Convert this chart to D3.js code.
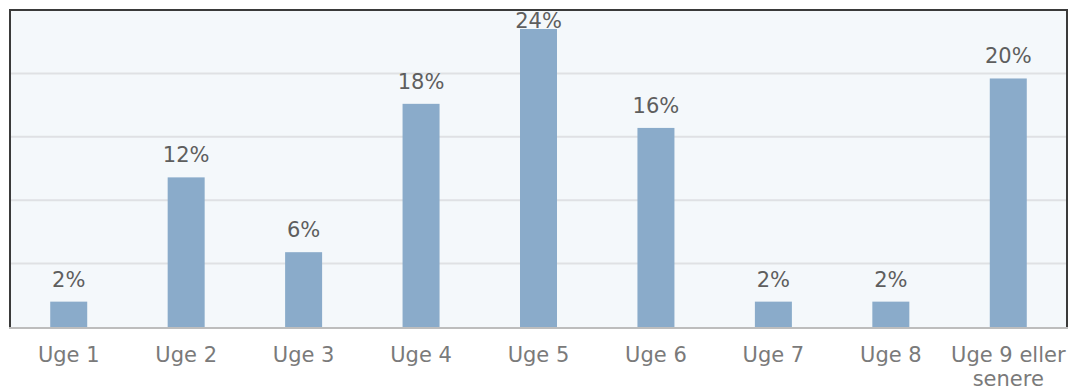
<!DOCTYPE html>
<html>
<head>
<meta charset="utf-8">
<script src="https://cdn.jsdelivr.net/npm/d3@7"></script>
<style>
  html, body { margin: 0; padding: 0; background: #ffffff; }
  svg { display: block; font-family: "DejaVu Sans", Verdana, sans-serif; }
</style>
</head>
<body>
<svg id="chart" width="1069" height="390"></svg>
<script>
// Share of respondents per week (percent)
const categories = ["Uge 1", "Uge 2", "Uge 3", "Uge 4", "Uge 5", "Uge 6", "Uge 7", "Uge 8", "Uge 9 eller senere"];
const shares = [2.0, 11.8, 5.9, 17.6, 23.5, 15.7, 2.0, 2.0, 19.6];
const yTicks = [0, 5, 10, 15, 20, 25];

const svg = d3.select("#chart");
const plot = { left: 10, right: 1067, top: 10, bottom: 327 };

const x = d3.scaleBand()
  .domain(categories)
  .range([plot.left, plot.right])
  .paddingInner(0.685)
  .paddingOuter(0.3425);

const y = d3.scaleLinear()
  .domain([0, 25])
  .range([plot.bottom, plot.top]);

// Plot background
svg.append("rect")
  .attr("x", plot.left).attr("y", plot.top)
  .attr("width", plot.right - plot.left)
  .attr("height", plot.bottom - plot.top)
  .attr("fill", "#f4f8fb");

// Horizontal gridlines
svg.append("g")
  .selectAll("line")
  .data(yTicks.filter(t => t > 0 && t < 25))
  .join("line")
  .attr("x1", plot.left).attr("x2", plot.right)
  .attr("y1", d => y(d)).attr("y2", d => y(d))
  .attr("stroke", "#dfe1e4")
  .attr("stroke-width", 2);

// Bars
svg.append("g")
  .selectAll("rect")
  .data(categories.map((c, i) => ({ c, v: shares[i] })))
  .join("rect")
  .attr("x", d => x(d.c))
  .attr("width", x.bandwidth())
  .attr("y", d => y(d.v))
  .attr("height", d => y(0) - y(d.v))
  .attr("fill", "#8aabca");

// Frame: dark top/left/right, grey baseline
svg.append("path")
  .attr("d", `M${plot.left},${plot.bottom} V${plot.top} H${plot.right} V${plot.bottom}`)
  .attr("fill", "none")
  .attr("stroke", "#3a3a3a")
  .attr("stroke-width", 2);

svg.append("line")
  .attr("x1", plot.left - 1).attr("x2", plot.right + 1)
  .attr("y1", plot.bottom + 1).attr("y2", plot.bottom + 1)
  .attr("stroke", "#bdbdbd")
  .attr("stroke-width", 2);

// Value labels (kept inside the plot area)
svg.append("g")
  .selectAll("text")
  .data(categories.map((c, i) => ({ c, v: shares[i] })))
  .join("text")
  .attr("x", d => x(d.c) + x.bandwidth() / 2)
  .attr("y", d => Math.max(y(d.v) - 15, plot.top + 18))
  .attr("text-anchor", "middle")
  .attr("font-size", 21)
  .attr("fill", "#5e5e5e")
  .text(d => Math.round(d.v) + "%");

// Category axis labels, wrapped to the band width
const xAxis = d3.axisBottom(x).tickSize(0).tickPadding(0);
const gx = svg.append("g")
  .attr("transform", `translate(0,${plot.bottom})`)
  .call(xAxis);
gx.select(".domain").remove();
gx.selectAll(".tick text")
  .attr("font-size", 21)
  .attr("font-family", "DejaVu Sans, Verdana, sans-serif")
  .attr("fill", "#7a7a7a")
  .attr("dy", null)
  .attr("y", 0)
  .each(function(d) {
    const t = d3.select(this);
    const lines = d === "Uge 9 eller senere" ? ["Uge 9 eller", "senere"] : [d];
    t.text(null);
    lines.forEach((ln, k) => {
      t.append("tspan")
        .attr("x", 0)
        .attr("y", 35 + k * 24)
        .text(ln);
    });
  });
</script>
</body>
</html>
